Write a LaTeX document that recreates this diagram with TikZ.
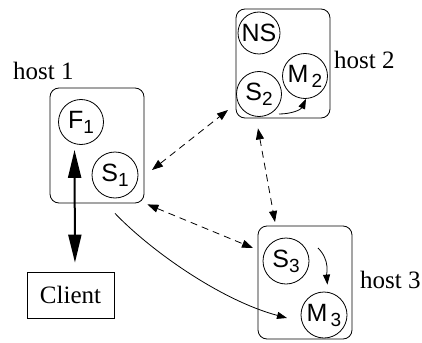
\documentclass[tikz,border=0pt]{standalone}
\usepackage{fontspec}
\setmainfont{Liberation Serif}
\newfontfamily\circfont{Liberation Sans}
\usetikzlibrary{arrows.meta,calc}
\newcommand{\cl}[2]{#1\raisebox{-5pt}{\fontsize{19}{19}\selectfont #2}}
\tikzset{
  hostbox/.style={draw, rounded corners=9pt, line width=0.8pt, inner sep=0},
  proc/.style={draw, circle, line width=0.8pt, minimum size=45pt, inner sep=0,
    font=\circfont\fontsize{25}{25}\selectfont},
  lbl/.style={font=\fontsize{25}{25}\selectfont, inner sep=0, anchor=base west},
  clientbox/.style={draw, line width=0.8pt, minimum width=87pt, minimum height=46pt,
    inner sep=0, font=\fontsize{25}{25}\selectfont},
  dasharr/.style={dashed, dash pattern=on 7pt off 5pt, line width=0.8pt,
    {Triangle[length=11pt,width=8pt]}-{Triangle[length=11pt,width=8pt]}},
  bigarr/.style={line width=2pt,
    {Triangle[length=28pt,width=13pt]}-{Triangle[length=28pt,width=13pt]}},
  smallarr/.style={line width=0.8pt, -{Triangle[length=10pt,width=7pt]}}
}
\begin{document}
\begin{tikzpicture}[x=1pt,y=-1pt]
\useasboundingbox (0,0) rectangle (422,342);
% host boxes
\node[hostbox, minimum width=94pt, minimum height=115pt] (h1) at (97,145.5) {};
\node[hostbox, minimum width=94pt, minimum height=109pt] (h2) at (283,63.5) {};
\node[hostbox, minimum width=94pt, minimum height=113pt] (h3) at (305,282.5) {};
% labels
\node[lbl] (l1) at (13,80) {host 1};
\node[lbl] (l2) at (334,69) {host 2};
\node[lbl] (l3) at (360,288) {host 3};
% processes
\node[proc] (F1) at (81,122) {\cl{F}{1}};
\node[proc, minimum size=46pt] (S1) at (115,175) {\cl{S}{1}};
\node[proc, minimum size=42pt] (NS) at (259,33) {NS};
\node[proc] (M2) at (305,76) {\cl{M}{\,2}};
\node[proc] (S2) at (259,94) {\cl{S}{2}};
\node[proc, minimum size=46pt] (S3) at (286,261) {\cl{S}{3}};
\node[proc, minimum size=46pt] (M3) at (324,315) {\cl{M}{\,3}};
% client
\node[clientbox] (C) at (70.5,295) {Client};
% connectors
\draw[bigarr, shorten <=9pt, shorten >=5pt] ([xshift=4.5pt]C.north) -- ([xshift=-6.5pt]F1.south);
\draw[dasharr] ($(S1)+(37,-5)$) -- ($(S2)+(-31,16)$);
\draw[dasharr] ($(h2.south)+(-25,10)$) -- ($(S3)+(-11,-39)$);
\draw[dasharr] ($(h1.south east)+(3,1)$) -- ($(S3)+(-33,-13)$);
\draw[smallarr] ($(S2)+(20,20)$) to[out=0, in=-115] ($(M2.south)+(1,0)$);
\draw[smallarr, shorten >=7pt] ($(S3)+(32,-13)$) to[out=-45, in=95] ([xshift=4pt]M3.north);
\draw[smallarr] ($(h1.south)+(18,10)$) .. controls (150,250) and (220,300) .. ($(M3)+(-37,3)$);
\end{tikzpicture}
\end{document}
